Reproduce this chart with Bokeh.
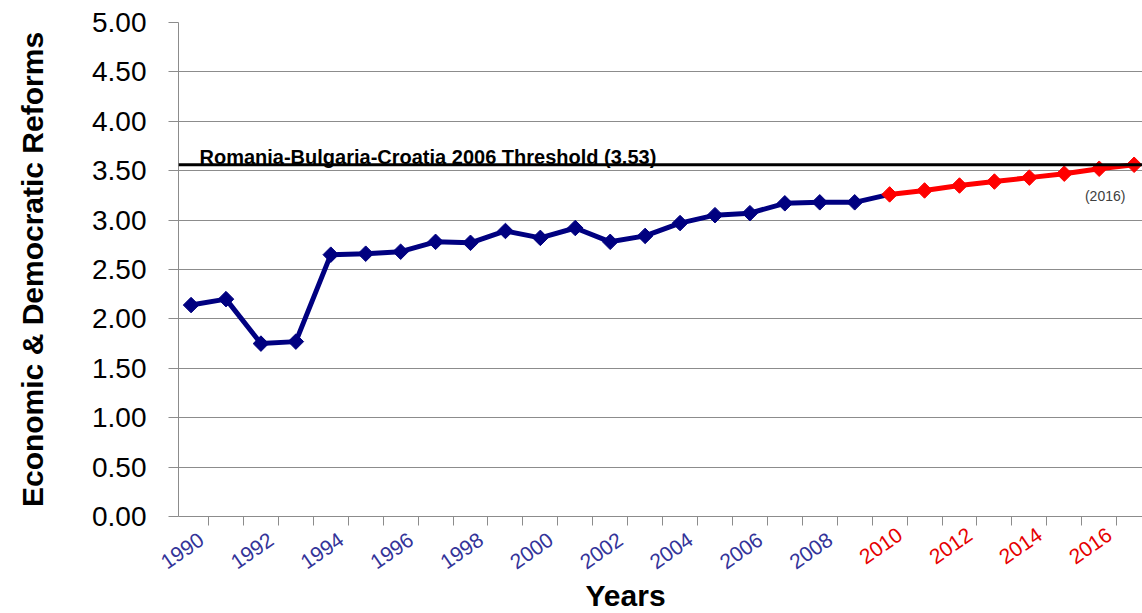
import math
from bokeh.plotting import figure
from bokeh.models import Span, Label, FixedTicker, NumeralTickFormatter, Range1d, LinearAxis, Title
from bokeh.embed import file_html
from bokeh.resources import INLINE

# ---- data ----
years = list(range(1990, 2018))
scores = [2.14, 2.20, 1.75, 1.77, 2.65, 2.66, 2.68, 2.78, 2.77, 2.89,
          2.82, 2.92, 2.78, 2.84, 2.97, 3.05, 3.07, 3.17, 3.18, 3.18,
          3.26, 3.30, 3.35, 3.39, 3.43, 3.47, 3.52, 3.56]
projection_start = 2010
threshold_value = 3.56
threshold_label = "Romania-Bulgaria-Croatia 2006 Threshold (3.53)"
label_years = list(range(1990, 2017, 2))
y_ticks = [0.0, 0.5, 1.0, 1.5, 2.0, 2.5, 3.0, 3.5, 4.0, 4.5, 5.0]
note_year = 2016
note_text = "(2016)"
x_title = "Years"
y_title = "Economic & Democratic Reforms"

NAVY = "#000080"
RED = "#ff0000"
LBL_BLUE = "#333399"
LBL_RED = "#e60000"
GRID = "#8c8c8c"
FONT = "Liberation Sans"
LBL_SHIFT = 0.3  # label anchor shift (years) so text ends right of the point
LBL_ANGLE = math.radians(35)

hist_x = [y for y in years if y <= projection_start]
hist_y = [s for y, s in zip(years, scores) if y <= projection_start]
proj_x = [y for y in years if y >= projection_start]
proj_y = [s for y, s in zip(years, scores) if y >= projection_start]
hist_mx = [y for y in years if y < projection_start]
hist_my = [s for y, s in zip(years, scores) if y < projection_start]

p = figure(width=1142, height=613,
           x_range=Range1d(years[0] - 0.36, years[-1] + 0.24),
           y_range=Range1d(y_ticks[0], y_ticks[-1]),
           output_backend="svg", toolbar_location=None,
           x_axis_location=None,
           min_border_left=178, min_border_right=0,
           min_border_top=22, min_border_bottom=97)
p.outline_line_color = None
p.background_fill_color = "white"

# y axis
p.yaxis.ticker = FixedTicker(ticks=y_ticks)
p.yaxis.formatter = NumeralTickFormatter(format="0.00")
p.yaxis.major_label_text_font = FONT
p.yaxis.major_label_text_font_size = "28px"
p.yaxis.major_label_text_color = "black"
p.yaxis.major_label_standoff = 22
p.yaxis.axis_line_color = GRID
p.yaxis.major_tick_line_color = GRID
p.yaxis.major_tick_out = 10
p.yaxis.major_tick_in = 0
p.yaxis.minor_tick_out = 0
p.yaxis.minor_tick_in = 0
p.yaxis.axis_label = y_title
p.yaxis.axis_label_text_font = FONT
p.yaxis.axis_label_text_font_style = "bold"
p.yaxis.axis_label_text_font_size = "30px"
p.yaxis.axis_label_text_color = "black"
p.yaxis.axis_label_standoff = 40

# grid
p.xgrid.visible = False
p.ygrid.grid_line_color = GRID
p.ygrid.grid_line_width = 1

boundaries = [y - 0.5 for y in years] + [years[-1] + 0.5]
blue_years = [y for y in label_years if y < projection_start]
red_years = [y for y in label_years if y >= projection_start]


def year_axis(lbl_years, color, first):
    ticks = [y + LBL_SHIFT for y in lbl_years]
    ax = LinearAxis(
        ticker=FixedTicker(ticks=ticks, minor_ticks=boundaries if first else []),
        major_label_overrides={t: str(y) for t, y in zip(ticks, lbl_years)},
        major_label_orientation=LBL_ANGLE,
        major_label_text_font=FONT,
        major_label_text_font_size="21px",
        major_label_text_color=color,
        major_label_standoff=12 if first else -46,
        major_tick_out=9 if first else 0, major_tick_in=0,
        major_tick_line_color=None,
        minor_tick_out=9 if first else 0, minor_tick_in=0,
        minor_tick_line_color=GRID,
        axis_line_color=GRID if first else None,
    )
    p.add_layout(ax, "below")


year_axis(blue_years, LBL_BLUE, True)
year_axis(red_years, LBL_RED, False)

p.add_layout(Title(text=x_title, align="left", offset=407, standoff=-3,
                   text_font=FONT, text_font_style="bold",
                   text_font_size="30px", text_color="black"), "below")

# threshold
p.add_layout(Span(location=threshold_value, dimension="width",
                  line_color="black", line_width=3))
p.add_layout(Label(x=21, x_units="screen", y=threshold_value, y_offset=8,
                   text=threshold_label, text_align="left", text_baseline="alphabetic",
                   text_font=FONT, text_font_style="bold",
                   text_font_size="20px", text_color="black"))

# series
p.line(hist_x, hist_y, line_color=NAVY, line_width=5)
p.scatter(hist_mx, hist_my, marker="square", angle=math.pi / 4, size=11,
          fill_color=NAVY, line_color=NAVY)
p.line(proj_x, proj_y, line_color=RED, line_width=5)
p.scatter(proj_x, proj_y, marker="square", angle=math.pi / 4, size=11,
          fill_color=RED, line_color=RED)

note_val = scores[years.index(note_year)]
p.add_layout(Label(x=note_year, y=note_val, x_offset=6, y_offset=-27, text=note_text,
                   text_align="center", text_baseline="middle",
                   text_font=FONT, text_font_size="14px", text_color="#404040"))

open("out.html", "w").write(file_html(p, INLINE))
